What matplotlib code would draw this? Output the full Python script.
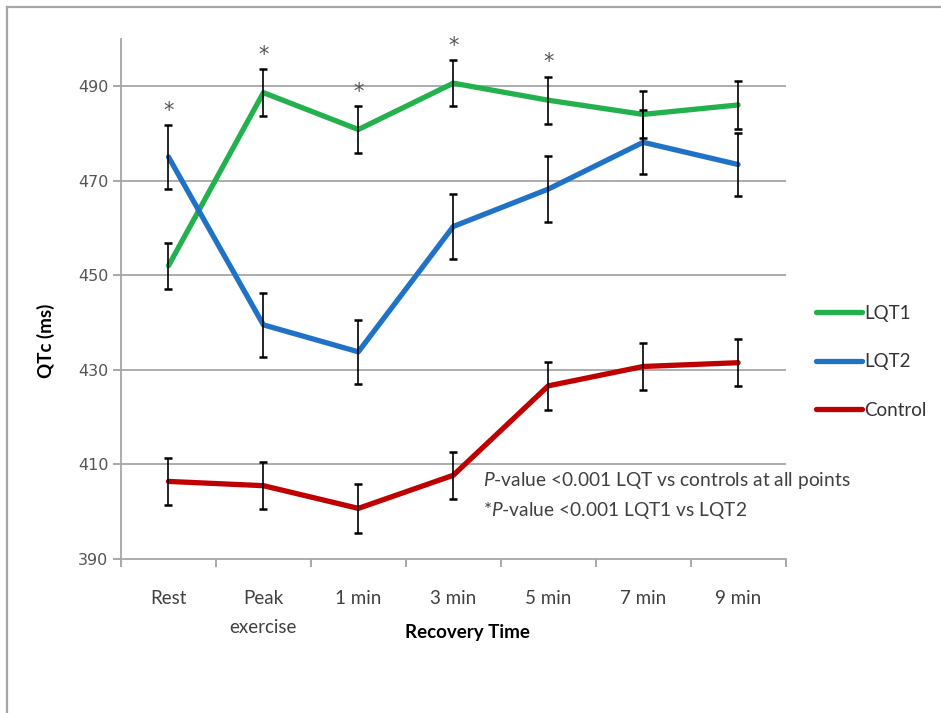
import matplotlib
matplotlib.use("Agg")
import matplotlib.pyplot as plt
from matplotlib.lines import Line2D
import numpy as np

plt.rcParams['font.family'] = ['Lato', 'DejaVu Sans']
plt.rcParams['mathtext.fontset'] = 'custom'
plt.rcParams['mathtext.rm'] = 'Lato'
plt.rcParams['mathtext.it'] = 'Lato:italic'

# --- data ---
categories = ["Rest", "Peak\nexercise", "1 min", "3 min", "5 min", "7 min", "9 min"]
lqt1 = [452.0, 488.6, 480.8, 490.6, 487.0, 484.0, 486.0]
lqt1_err = [4.9, 4.9, 5.0, 4.9, 5.0, 4.9, 5.0]
lqt2 = [475.0, 439.5, 433.8, 460.3, 468.2, 478.1, 473.4]
lqt2_err = [6.8, 6.7, 6.8, 6.8, 6.9, 6.8, 6.7]
control = [406.4, 405.5, 400.7, 407.7, 426.6, 430.7, 431.5]
control_err = [5.0, 5.0, 5.1, 5.0, 5.0, 5.0, 5.0]
starred = [0, 1, 2, 3, 4]   # LQT1 vs LQT2 significant

series = [
    ("LQT1", lqt1, lqt1_err, "#22b14c"),
    ("LQT2", lqt2, lqt2_err, "#1f72c6"),
    ("Control", control, control_err, "#c00000"),
]

fig = plt.figure(figsize=(9.41, 7.13), dpi=100)
ax = fig.add_axes([0.1286, 0.2160, 0.7062, 0.7297])

x = np.arange(len(categories))
handles = []
for name, vals, errs, col in series:
    ax.plot(x, vals, color=col, lw=3.8, solid_capstyle='round', zorder=3)
    ax.errorbar(x, vals, yerr=errs, fmt='none', ecolor='black', elinewidth=1.2,
                capsize=3.2, capthick=1.8, zorder=4)
    handles.append(Line2D([0], [0], color=col, lw=3.8, solid_capstyle='round'))

# asterisks above the highest error bar
for i in starred:
    top = max(lqt1[i] + lqt1_err[i], lqt2[i] + lqt2_err[i])
    ax.annotate("*", (x[i], top), xytext=(0, 3), textcoords='offset points',
                ha='center', va='bottom', fontsize=15, color='#555555',
                family='DejaVu Sans')

ax.set_xlim(-0.5, len(categories) - 0.5)
ax.set_ylim(390, 500)
ax.set_yticks(np.arange(390, 491, 20))
ax.set_xticks(x)
ax.set_xticklabels(categories, fontsize=13.5, color='#404040', linespacing=1.9)
ax.set_xticks(np.arange(-0.5, len(categories)), minor=True)
ax.tick_params(axis='x', which='major', length=0, pad=22)
ax.tick_params(axis='x', which='minor', length=6, color='#999999', width=1.2)
ax.tick_params(axis='y', length=6, color='#999999', width=1.2, labelsize=11.5,
               labelcolor='#555555', pad=3)
for lab in ax.get_yticklabels():
    lab.set_family('DejaVu Sans')

for y in np.arange(410, 491, 20):
    ax.axhline(y, color='#a6a6a6', lw=1.3, zorder=1)

for s in ('top', 'right'):
    ax.spines[s].set_visible(False)
for s in ('left', 'bottom'):
    ax.spines[s].set_color('#a6a6a6')
    ax.spines[s].set_linewidth(1.3)

ax.set_ylabel("QTc (ms)", fontsize=13.5, fontweight='bold')
ax.yaxis.set_label_coords(-0.10, 0.42)
ax.set_xlabel("Recovery Time", fontsize=13.5, fontweight='bold')
ax.xaxis.set_label_coords(0.521, -0.125)

ax.text(3.31, 406.7, r"$P$-value <0.001 LQT vs controls at all points",
        fontsize=13.8, color='#404040', va='center', ha='left')
ax.text(3.31, 400.2, r"*$P$-value <0.001 LQT1 vs LQT2",
        fontsize=13.8, color='#404040', va='center', ha='left')

ax.legend(handles, [s[0] for s in series], loc='center left',
          bbox_to_anchor=(1.046, 0.379), frameon=False, fontsize=13.5,
          handlelength=2.45, handletextpad=0.1, labelspacing=1.68,
          borderaxespad=0, borderpad=0, labelcolor='#333333')

# outer frame of the original figure
fig.add_artist(Line2D([7 / 941, 1], [1 - 7 / 713] * 2, transform=fig.transFigure,
                      color='#a6a6a6', lw=1.6))
fig.add_artist(Line2D([7 / 941] * 2, [0, 1 - 7 / 713], transform=fig.transFigure,
                      color='#a6a6a6', lw=1.6))

fig.savefig("out.png", dpi=100)
